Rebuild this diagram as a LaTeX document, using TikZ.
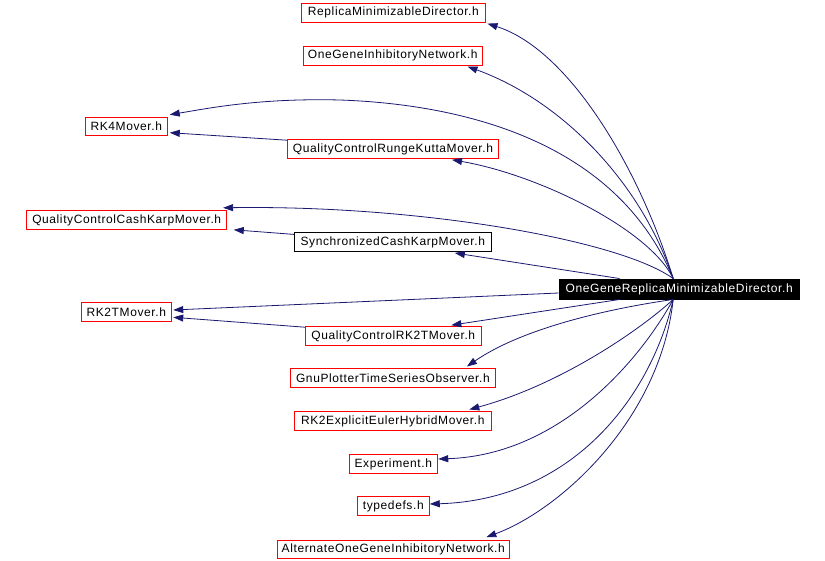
\documentclass[tikz,border=0pt]{standalone}
\usepackage{fontspec}
\setmainfont{Liberation Sans}[LetterSpace=5]
\usetikzlibrary{calc,arrows.meta}
\definecolor{edgeblue}{HTML}{191970}
\definecolor{boxred}{HTML}{FF0000}
\begin{document}
\begin{tikzpicture}[x=1pt,y=-1pt,
  hdr/.style={draw=boxred, line width=0.9pt, fill=white, inner sep=0pt,
    minimum height=18.7pt, font=\fontsize{12}{14}\selectfont, anchor=center},
  plain/.style={hdr, draw=black},
  mainbox/.style={hdr, draw=black, fill=black, text=white, minimum height=20pt},
  edge/.style={draw=edgeblue, line width=0.8pt, -{Triangle[length=10pt,width=7pt]}}]
\useasboundingbox[fill=white] (0,0) rectangle (825,561);

\node[hdr, minimum width=183.3pt] (rmd) at (393.4,12.8) {ReplicaMinimizableDirector.h};
\node[hdr, minimum width=178.7pt] (ogin) at (392.7,55.7) {OneGeneInhibitoryNetwork.h};
\node[hdr, minimum width=82pt] (rk4) at (126.3,126.5) {RK4Mover.h};
\node[hdr, minimum width=211.4pt] (qcrkm) at (393,149) {QualityControlRungeKuttaMover.h};
\node[hdr, minimum width=200pt] (qcckm) at (126.7,220) {QualityControlCashKarpMover.h};
\node[plain, minimum width=197pt] (sync) at (392.8,242.2) {SynchronizedCashKarpMover.h};
\node[mainbox, minimum width=240.3pt] (main) at (679.2,289) {OneGeneReplicaMinimizableDirector.h};
\node[hdr, minimum width=90pt] (rk2t) at (126.3,311.8) {RK2TMover.h};
\node[hdr, minimum width=176pt] (qcrk2t) at (393.3,336) {QualityControlRK2TMover.h};
\node[hdr, minimum width=205.7pt] (gnu) at (392.9,378.3) {GnuPlotterTimeSeriesObserver.h};
\node[hdr, minimum width=197pt] (rk2e) at (392.8,421) {RK2ExplicitEulerHybridMover.h};
\node[hdr, minimum width=88pt] (exp) at (393.3,464) {Experiment.h};
\node[hdr, minimum width=72pt] (td) at (393.3,506) {typedefs.h};
\node[hdr, minimum width=232pt] (alt) at (393.3,549.3) {AlternateOneGeneInhibitoryNetwork.h};

% upper fan
\draw[edge] ($(main.north)+(-6,0)$) .. controls (640,170) and (570,50) .. ($(rmd.south east)+(2,1)$);
\draw[edge] ($(main.north)+(-6,0)$) .. controls (640,180) and (560,100) .. ($(ogin.south east)+(-15,1)$);
\draw[edge] ($(main.north)+(-6,0)$) .. controls (620,150) and (480,105) .. (340,100)
  .. controls (260,98) and (210,108) .. ($(rk4.north east)+(2,-2)$);
\draw[edge] ($(main.north)+(-6,0)$) .. controls (650,230) and (540,175) .. ($(qcrkm.south)+(59,1)$);
\draw[edge] ($(main.north)+(-6,0)$) .. controls (620,240) and (420,205) .. ($(qcckm.north east)+(-4,-2.4)$);
\draw[edge] ($(main.north west)+(61,0)$) -- ($(sync.south)+(62,1)$);
% side edges
\draw[edge] ($(qcrkm.north west)+(0,1)$) -- ($(rk4.south east)+(2,-3.6)$);
\draw[edge] ($(sync.north west)+(0,2)$) -- ($(qcckm.south east)+(6.6,0)$);
\draw[edge] ($(main.west)+(0,4)$) -- ($(rk2t.east)+(1.5,-1.8)$);
\draw[edge] ($(qcrk2t.north west)+(0,1)$) -- ($(rk2t.east)+(1.5,5.5)$);
% lower fan
\draw[edge] ($(main.south west)+(61,0)$) -- ($(qcrk2t.north)+(58,-1)$);
\draw[edge] ($(main.south)+(-6,0)$) .. controls (600,310) and (520,330) .. ($(gnu.north)+(74,-2)$);
\draw[edge] ($(main.south)+(-6,0)$) .. controls (640,330) and (560,385) .. ($(rk2e.north)+(76.5,-1.7)$);
\draw[edge] ($(main.south)+(-6,0)$) .. controls (640,360) and (560,455) .. ($(exp.east)+(0.5,-5)$);
\draw[edge] ($(main.south)+(-6,0)$) .. controls (650,400) and (570,500) .. ($(td.east)+(0,-2)$);
\draw[edge] ($(main.south)+(-6,0)$) .. controls (660,420) and (560,510) .. ($(alt.north)+(93,-2.3)$);
\end{tikzpicture}
\end{document}
